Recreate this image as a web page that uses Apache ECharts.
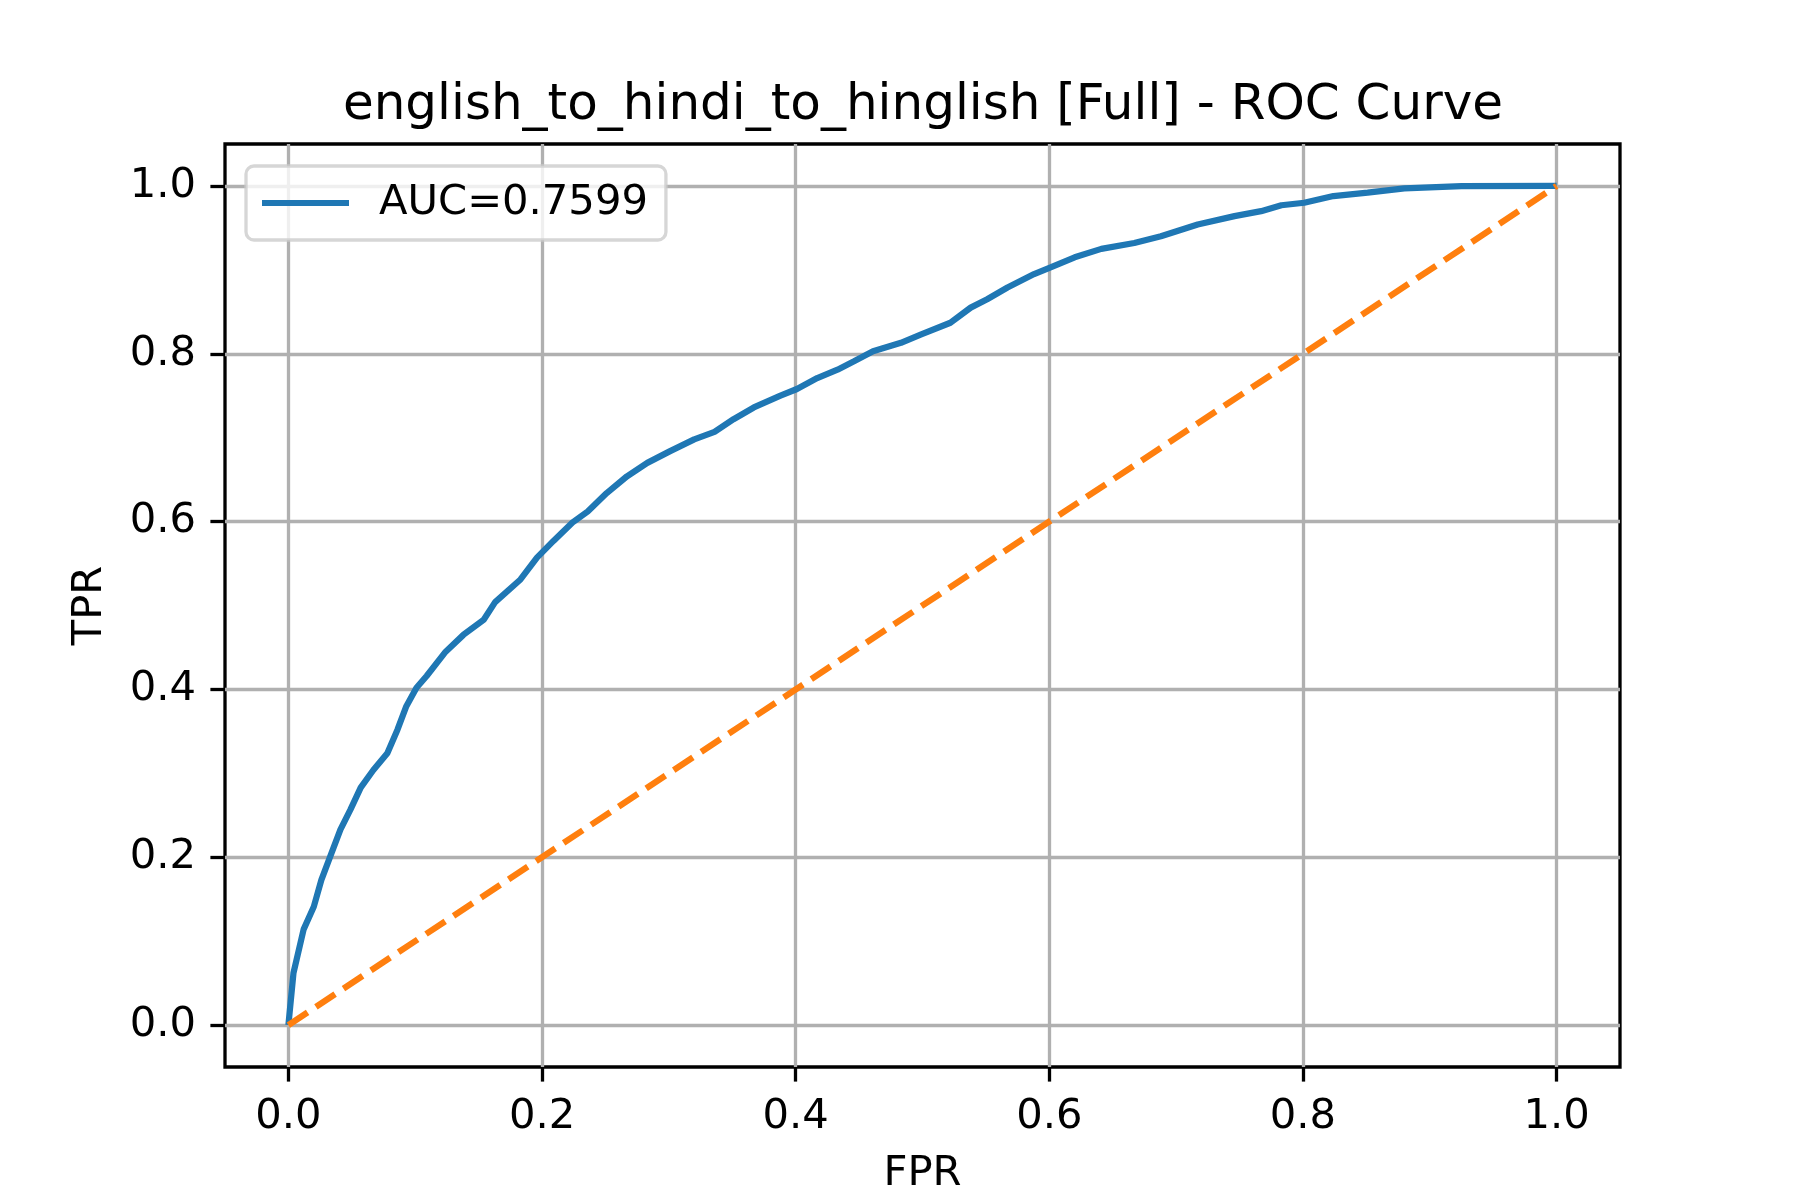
<!DOCTYPE html>
<html>
<head>
<meta charset="UTF-8">
<title>ROC Curve</title>
<script src="https://cdn.jsdelivr.net/npm/echarts@6/dist/echarts.min.js"></script>
<style>
  html, body { margin: 0; padding: 0; background: #fff; }
</style>
</head>
<body>
<div id="main" style="width:1800px;height:1200px;"></div>
<script>
// ROC curve
var fpr = [0, 0.004, 0.012, 0.020, 0.026, 0.033, 0.041, 0.049, 0.057, 0.067,
  0.078, 0.086, 0.093, 0.101, 0.109, 0.124, 0.138, 0.154, 0.163, 0.183,
  0.196, 0.209, 0.224, 0.236, 0.251, 0.267, 0.283, 0.301, 0.320, 0.336,
  0.351, 0.367, 0.388, 0.401, 0.417, 0.433, 0.446, 0.461, 0.483, 0.499,
  0.522, 0.538, 0.551, 0.567, 0.588, 0.601, 0.620, 0.641, 0.667, 0.688,
  0.717, 0.746, 0.767, 0.783, 0.801, 0.824, 0.851, 0.880, 0.925, 1.0];
var tpr = [0, 0.062, 0.114, 0.141, 0.173, 0.201, 0.233, 0.257, 0.283, 0.304,
  0.324, 0.352, 0.380, 0.402, 0.416, 0.445, 0.465, 0.483, 0.504, 0.531,
  0.557, 0.577, 0.599, 0.612, 0.634, 0.654, 0.670, 0.684, 0.698, 0.707,
  0.722, 0.736, 0.750, 0.758, 0.771, 0.781, 0.791, 0.803, 0.813, 0.823,
  0.837, 0.855, 0.865, 0.879, 0.895, 0.903, 0.915, 0.925, 0.932, 0.940,
  0.954, 0.964, 0.970, 0.977, 0.980, 0.988, 0.992, 0.997, 0.9997, 1.0];
var chanceX = [0, 1];
var chanceY = [0, 1];
var ticks = [0, 0.2, 0.4, 0.6, 0.8, 1.0];
var aucLabel = 'AUC=0.7599';

var rocData = [];
for (var i = 0; i < fpr.length; i++) rocData.push([fpr[i], tpr[i]]);
var chanceData = [];
for (var j = 0; j < chanceX.length; j++) chanceData.push([chanceX[j], chanceY[j]]);

var font = 'DejaVu Sans';
var myChart = echarts.init(document.getElementById('main'));

function axisOf(name, gap) {
  return {
    type: 'value',
    min: -0.05,
    max: 1.05,
    name: name,
    nameLocation: 'middle',
    nameGap: gap,
    nameTextStyle: { fontFamily: font, fontSize: 41.7, color: '#000' },
    axisLine: { show: false, onZero: false },
    axisTick: {
      show: true, inside: false, length: 14.6, customValues: ticks,
      lineStyle: { color: '#000', width: 3.3 }
    },
    axisLabel: {
      customValues: ticks, margin: 29,
      fontFamily: font, fontSize: 41.7, color: '#000',
      formatter: function (v) { return v.toFixed(1); }
    },
    splitLine: { show: true, lineStyle: { color: '#b0b0b0', width: 3.3 } }
  };
}

var option = {
  animation: false,
  backgroundColor: '#fff',
  title: {
    text: 'english_to_hindi_to_hinglish [Full] - ROC Curve',
    left: 918, top: 76, textAlign: 'center',
    textStyle: { fontFamily: font, fontSize: 50, fontWeight: 'normal', color: '#000' }
  },
  grid: {
    left: 225, top: 144, width: 1395, height: 924,
    show: true, borderColor: '#000', borderWidth: 3.3, backgroundColor: 'transparent'
  },
  legend: {
    data: [aucLabel],
    left: 246, top: 166,
    orient: 'vertical',
    icon: 'rect', itemWidth: 87, itemHeight: 6,
    padding: [16, 18, 16, 16],
    backgroundColor: 'rgba(255,255,255,0.8)',
    borderColor: 'rgba(204,204,204,0.8)', borderWidth: 3.3, borderRadius: 8,
    textStyle: { fontFamily: font, fontSize: 41.7, color: '#000', padding: [0, 0, 0, 25] }
  },
  xAxis: axisOf('FPR', 86),
  yAxis: axisOf('TPR', 114),
  series: [
    {
      name: aucLabel, type: 'line', data: rocData,
      showSymbol: false, symbol: 'none', smooth: false,
      itemStyle: { color: '#1f77b4' },
      lineStyle: { color: '#1f77b4', width: 6.25 }
    },
    {
      name: 'chance', type: 'line', data: chanceData,
      showSymbol: false, symbol: 'none',
      itemStyle: { color: '#ff7f0e' },
      lineStyle: { color: '#ff7f0e', width: 6.25, type: [23, 10] }
    }
  ]
};

myChart.setOption(option);
</script>
</body>
</html>
